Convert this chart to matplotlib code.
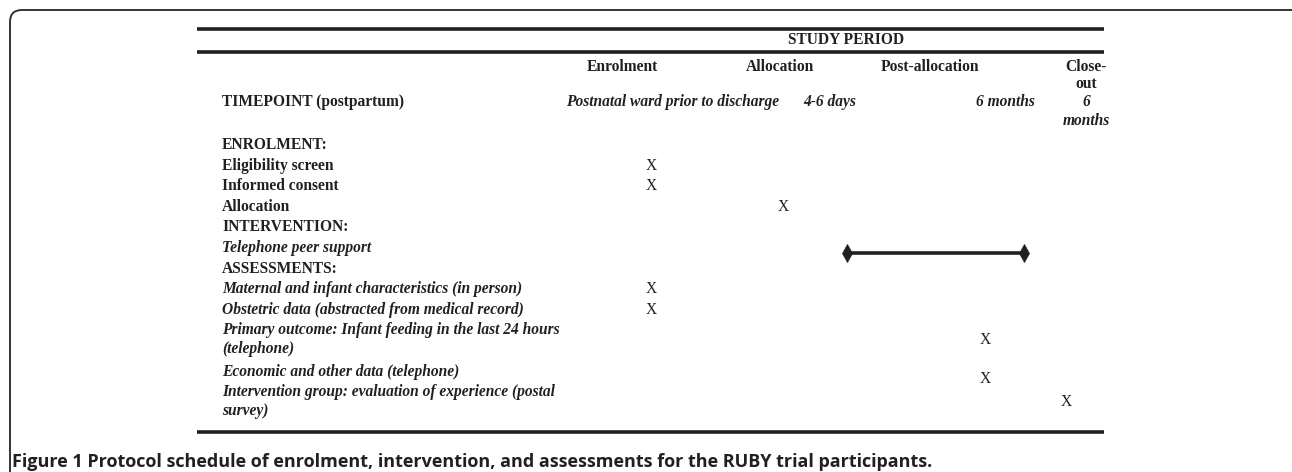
import matplotlib
matplotlib.use("Agg")
import matplotlib.pyplot as plt
from matplotlib.patches import FancyBboxPatch

# ---------------- data ----------------
study_period_title = "STUDY PERIOD"
period_headers = ["Enrolment", "Allocation", "Post-allocation", "Close-\nout"]
timepoint_label = "TIMEPOINT (postpartum)"
timepoints = ["Postnatal ward prior to discharge", "4-6 days", "6 months", "6\nmonths"]

row_labels = [
    "ENROLMENT:",
    "Eligibility screen",
    "Informed consent",
    "Allocation",
    "INTERVENTION:",
    "Telephone peer support",
    "ASSESSMENTS:",
    "Maternal and infant characteristics (in person)",
    "Obstetric data (abstracted from medical record)",
    "Primary outcome: Infant feeding in the last 24 hours\n(telephone)",
    "Economic and other data (telephone)",
    "Intervention group: evaluation of experience (postal\nsurvey)",
]
row_styles = ["bold", "bold", "bold", "bold", "bold", "bolditalic", "bold",
              "bolditalic", "bolditalic", "bolditalic", "bolditalic", "bolditalic"]
# which schedule column holds an "X" for each row (None = no mark)
row_marks = [None, "enrol", "enrol", "alloc", None, None, None,
             "enrol", "enrol", "6m", "6m", "close"]
# intervention delivered continuously between these timepoints
support_span = ("4-6 days", "6 months")
support_row = "Telephone peer support"

caption_bold = "Figure 1"
caption_text = "Protocol schedule of enrolment, intervention, and assessments for the RUBY trial participants."

# ---------------- layout ----------------
W, H = 1292, 472
fig = plt.figure(figsize=(W / 100, H / 100), dpi=100)
ax = fig.add_axes([0, 0, 1, 1])
ax.set_xlim(0, W)
ax.set_ylim(H, 0)
ax.axis("off")

ink = "#231f20"
serif = ["Liberation Serif", "DejaVu Serif"]
fs = 11.2
wrap_step = 19.0


def multiline(x, y, text, ha="left", **kw):
    for k, line in enumerate(text.split("\n")):
        ax.text(x, y + k * wrap_step, line, family=serif, fontsize=fs, ha=ha,
                va="center", color=ink, **kw)


# frame
frame = FancyBboxPatch((10, 10), W + 40, H + 40,
                       boxstyle="round,pad=0,rounding_size=12",
                       fill=False, ec="#333333", lw=1.4)
ax.add_patch(frame)

rule_x0, rule_x1 = 197, 1104
for y in (29, 52, 432):
    ax.plot([rule_x0, rule_x1], [y, y], color=ink, lw=2.6, solid_capstyle="butt")

multiline(846, 40, study_period_title, ha="center", weight="bold")

header_x = [622, 780, 930, 1086]
for x, t in zip(header_x, period_headers):
    ax.text(x, 67, t.split("\n")[0], family=serif, weight="bold", fontsize=fs,
            ha="center", va="center", color=ink)
    if "\n" in t:
        ax.text(x, 84, t.split("\n")[1], family=serif, weight="bold",
                fontsize=fs, ha="center", va="center", color=ink)

label_x = 222
multiline(label_x, 102, timepoint_label, weight="bold")

tp_pos = {timepoints[0]: (566, "left"), timepoints[1]: (803, "left"),
          timepoints[2]: (1035, "right"), timepoints[3]: (1086, "center")}
for t in timepoints:
    x, ha = tp_pos[t]
    multiline(x, 102, t, ha=ha, weight="bold", style="italic")

col_x = {"enrol": 651, "alloc": 783, "6m": 985, "close": 1066}
tp_x = {"4-6 days": 847, "6 months": 1024}

y = 145
step = 20.6
row_y = []
for lab, sty, mk in zip(row_labels, row_styles, row_marks):
    nlines = lab.count("\n") + 1
    row_y.append(y)
    multiline(label_x, y, lab, weight="bold",
              style="italic" if "italic" in sty else "normal")
    if mk is not None:
        ym = y + (nlines - 1) * wrap_step / 2 + (7 if nlines == 1 and mk == "6m" else 0)
        ax.text(col_x[mk], ym, "X", family=serif, fontsize=fs, ha="center",
                va="center", color=ink)
    y += step * nlines

sy = row_y[row_labels.index(support_row)] + 5
ax.plot([tp_x[support_span[0]], tp_x[support_span[1]]], [sy, sy], color=ink,
        lw=2.6, marker="d", markersize=9, markeredgewidth=0.5, mfc=ink, mec=ink)

cap_font = ["Open Sans", "DejaVu Sans"]
ax.text(12, 462, caption_bold + " " + caption_text, family=cap_font,
        weight="bold", fontsize=13.0, ha="left", va="center", color=ink)

fig.savefig("out.png", dpi=100)
